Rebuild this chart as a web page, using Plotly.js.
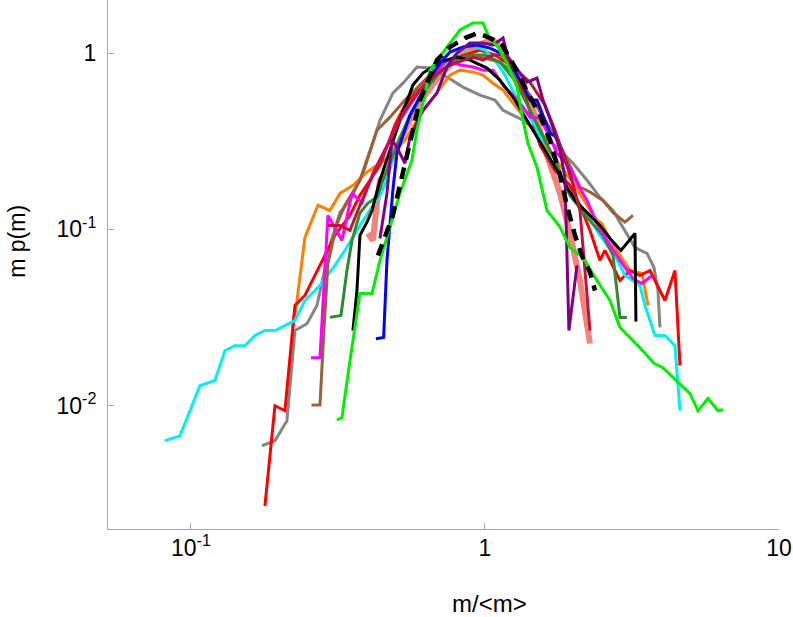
<!DOCTYPE html>
<html>
<head>
<meta charset="utf-8">
<script src="https://cdn.plot.ly/plotly-3.0.1.min.js"></script>
<style>
html,body{margin:0;padding:0;background:#fff;}
#chart{width:793px;height:617px;}
</style>
</head>
<body>
<div id="chart"></div>
<script>
// ---- data (x = m/<m>, y = m p(m)) ----
var salmonX = [0.4000,0.4156,0.4292,0.4394,0.4642,0.4942,0.5557,0.6250,0.7029,0.7906,0.8892,0.9845,1.065,1.125,1.235,1.368,1.503,1.626,1.800,1.946,2.104,2.276];
var salmonY = [0.0950,0.0866,0.141,0.190,0.208,0.281,0.416,0.577,0.750,0.912,1.040,1.140,1.186,1.082,0.855,0.616,0.416,0.263,0.160,0.0950,0.0513,0.0225];

var grayX = [0.1744,0.1931,0.2121,0.2258,0.2481,0.2683,0.2970,0.3212,0.3474,0.3846,0.4156,0.4394,0.4862,0.5262,0.5871,0.6500,0.7427,0.8418,0.9616,1.081,1.152,1.245,1.347,1.539,1.758,1.993,2.224,2.461,2.725,2.947,3.237,3.557,3.757,3.876,3.937];
var grayY = [0.00593,0.00633,0.00822,0.0267,0.0292,0.0370,0.0811,0.125,0.146,0.208,0.308,0.416,0.593,0.675,0.833,0.822,0.731,0.641,0.577,0.541,0.474,0.444,0.416,0.351,0.292,0.237,0.190,0.152,0.128,0.1026,0.0789,0.0731,0.0608,0.0450,0.0278];

var orangeX = [0.2221,0.2295,0.2442,0.2704,0.2970,0.3212,0.3556,0.3969,0.4642,0.5344,0.6010,0.6759,0.7603,0.8222,0.9104,0.9845,1.065,1.152,1.265,1.423,1.600,1.800,2.024,2.276,2.403,2.500,2.600,2.878,3.113,3.419,3.585];
var orangeY = [0.0278,0.0395,0.0901,0.137,0.128,0.160,0.178,0.211,0.253,0.320,0.444,0.577,0.750,0.800,0.780,0.750,0.675,0.616,0.506,0.390,0.300,0.231,0.178,0.128,0.1125,0.108,0.095,0.0712,0.0585,0.0563,0.0370];

var redX = [0.1785,0.1931,0.2088,0.2258,0.2442,0.2641,0.2856,0.3089,0.3474,0.3757,0.4063,0.4394,0.4942,0.5344,0.6010,0.6759,0.7603,0.8551,0.9616,1.081,1.216,1.368,1.539,1.730,1.946,2.104,2.276,2.461,2.559,2.878,3.113,3.366,3.640,4.094,4.428,4.605];
var redY = [0.00270,0.0100,0.00937,0.0370,0.0422,0.0548,0.0712,0.0925,0.120,0.156,0.190,0.231,0.390,0.506,0.658,0.800,0.912,0.974,1.040,0.974,0.855,0.577,0.300,0.216,0.178,0.137,0.0987,0.0667,0.0760,0.0513,0.0585,0.0548,0.0585,0.0395,0.0585,0.0169];

var cyanX = [0.0816,0.0918,0.1073,0.1207,0.1305,0.1411,0.1526,0.1651,0.1785,0.1931,0.2088,0.2258,0.2442,0.2747,0.3089,0.3341,0.3757,0.4063,0.4394,0.4569,0.4942,0.5557,0.6250,0.7029,0.7906,0.8892,1.000,1.081,1.170,1.265,1.368,1.479,1.600,1.800,2.024,2.189,2.461,2.768,2.993,3.366,3.501,3.786,4.094,4.428,4.605];
var cyanY = [0.00633,0.00675,0.0130,0.0139,0.0205,0.0219,0.0219,0.0250,0.0267,0.0267,0.0285,0.0304,0.0395,0.0481,0.0625,0.0760,0.1054,0.128,0.156,0.178,0.281,0.444,0.616,0.800,0.974,1.110,1.040,0.912,0.750,0.577,0.474,0.390,0.281,0.203,0.146,0.128,0.0925,0.0712,0.0548,0.0481,0.0370,0.0250,0.0250,0.0219,0.00937];

var brownX = [0.2571,0.2747,0.2833,0.2924,0.3137,0.3341,0.3757,0.4292,0.4752,0.5344,0.6010,0.7029,0.8222,0.9616,1.125,1.265,1.423,1.600,1.800,1.977,2.104,2.276,2.519,2.725,2.993,3.187];
var brownY = [0.0101,0.0101,0.0267,0.0641,0.108,0.137,0.190,0.365,0.433,0.541,0.658,0.800,0.912,0.949,0.889,0.750,0.577,0.416,0.300,0.216,0.174,0.163,0.146,0.125,0.110,0.120];

var dgreenX = [0.2970,0.3238,0.3393,0.3530,0.3757,0.4000,0.4292,0.4499,0.4942,0.5557,0.6250,0.7029,0.7906,0.8892,1.000,1.125,1.245,1.368,1.539,1.730,1.946,2.224,2.519,2.725,2.878,3.039];
var dgreenY = [0.0317,0.0325,0.0585,0.0866,0.124,0.141,0.152,0.190,0.281,0.444,0.616,0.780,0.912,0.974,0.974,0.889,0.721,0.541,0.365,0.247,0.156,0.117,0.0925,0.0712,0.0317,0.0317];

var magentaX = [0.2561,0.2747,0.2924,0.3263,0.3530,0.3816,0.4156,0.4569,0.5139,0.6010,0.6759,0.7427,0.8222,0.9104,0.9845,1.065,1.152,1.245,1.347,1.423,1.539,1.664,1.758,1.946,2.056,2.223,2.403,2.600,2.878,3.187,3.419,3.698];
var magentaY = [0.0187,0.0187,0.120,0.0866,0.160,0.142,0.208,0.281,0.416,0.616,0.780,0.912,0.855,0.833,0.800,0.800,0.658,0.577,0.493,0.433,0.427,0.333,0.270,0.225,0.183,0.146,0.108,0.0866,0.0667,0.0526,0.0493,0.0548];

var blackX = [0.3556,0.3670,0.3757,0.3969,0.4128,0.4394,0.4752,0.5139,0.5689,0.6152,0.7029,0.8031,0.8892,1.016,1.125,1.265,1.423,1.600,1.800,2.024,2.276,2.461,2.662,2.901,3.237,3.262];
var blackY = [0.0267,0.0450,0.0925,0.110,0.128,0.190,0.281,0.416,0.658,0.770,0.889,0.949,0.912,0.822,0.702,0.541,0.390,0.281,0.203,0.146,0.120,0.1054,0.0889,0.0760,0.0950,0.0300];

var blueX = [0.4257,0.4523,0.4642,0.4752,0.4862,0.5018,0.5557,0.6351,0.7029,0.7603,0.8418,0.9393,1.040,1.125,1.245,1.315,1.423,1.503,1.664,1.758,1.843,1.977];
var blueY = [0.0240,0.0244,0.0667,0.108,0.167,0.270,0.444,0.675,0.877,1.013,1.082,1.110,1.067,1.000,0.822,0.702,0.541,0.541,0.351,0.333,0.270,0.190];

var crimsonX = [0.2924,0.3212,0.3474,0.3757,0.4225,0.4752,0.5344,0.6010,0.6759,0.7603,0.8418,0.9104,0.9845,1.065,1.152,1.245,1.423,1.600,1.730,1.871,1.977,2.104,2.276];
var crimsonY = [0.1054,0.1054,0.0987,0.137,0.216,0.320,0.474,0.616,0.750,0.855,0.912,0.949,0.912,0.974,0.974,0.833,0.684,0.506,0.365,0.247,0.190,0.128,0.0267];

var purpleX = [0.4394,0.4523,0.4642,0.4827,0.5018,0.5344,0.5557,0.6152,0.6866,0.7427,0.8031,0.8892,0.9845,1.065,1.152,1.197,1.390,1.503,1.575,1.703,1.800,1.871,1.930,2.056];
var purpleY = [0.0889,0.124,0.160,0.320,0.292,0.237,0.333,0.474,0.593,0.833,1.000,1.140,1.140,1.110,1.217,0.949,0.684,0.721,0.541,0.380,0.281,0.197,0.0267,0.0625];

var limeX = [0.3137,0.3263,0.3474,0.3757,0.4128,0.4394,0.4752,0.5139,0.5644,0.5871,0.6152,0.6500,0.7427,0.8222,0.9104,0.9845,1.040,1.098,1.188,1.285,1.347,1.400,1.503,1.626,1.800,1.946,2.155,2.403,2.662,2.878,3.366,3.757,4.031,4.605,4.980,5.300,5.735,6.206,6.457];
var limeY = [0.00832,0.00855,0.0180,0.0433,0.0433,0.0667,0.103,0.160,0.247,0.365,0.520,0.800,1.082,1.351,1.480,1.480,1.186,1.110,0.877,0.641,0.416,0.308,0.225,0.128,0.103,0.0789,0.0694,0.0513,0.0395,0.0278,0.0213,0.0174,0.0164,0.0133,0.0117,0.00937,0.0110,0.00937,0.00950];

var dashX = [0.4326,0.4569,0.4862,0.5139,0.5344,0.5689,0.6010,0.6399,0.6866,0.7603,0.8551,0.9467,1.040,1.143,1.265,1.400,1.539,1.664,1.800,1.900,2.024,2.133,2.276,2.367];
var dashY = [0.0712,0.090,0.120,0.178,0.231,0.365,0.541,0.702,0.912,1.082,1.217,1.299,1.217,1.110,0.833,0.593,0.444,0.320,0.203,0.137,0.0925,0.0712,0.0571,0.0450];

var xTickVals = [0.1, 1, 10];
var xTickText = ['10<sup>-1</sup>', '1', '10'];
var yTickVals = [0.01, 0.1, 1];
var yTickText = ['10<sup>-2</sup>', '10<sup>-1</sup>', '1'];

function line(x, y, color, width, dash) {
  return {x: x, y: y, type: 'scatter', mode: 'lines', hoverinfo: 'skip',
          line: {color: color, width: width, dash: dash || 'solid'}};
}

var traces = [
  line(salmonX, salmonY, '#f4837a', 6),
  line(grayX, grayY, '#858585', 3),
  line(orangeX, orangeY, '#ff8000', 3),
  line(redX, redY, '#ff0000', 3),
  line(cyanX, cyanY, '#00f0f0', 3),
  line(brownX, brownY, '#9c5f36', 3),
  line(dgreenX, dgreenY, '#2e8b2e', 3),
  line(magentaX, magentaY, '#ff00ff', 3),
  line(blackX, blackY, '#000000', 3),
  line(blueX, blueY, '#0000ff', 3),
  line(crimsonX, crimsonY, '#c0143c', 3),
  line(purpleX, purpleY, '#800080', 3),
  line(limeX, limeY, '#00ee00', 3),
  line(dashX, dashY, '#000000', 4.5, '12px,8px')
];

var FONT = 'Liberation Sans, Arial, sans-serif';
var axisCommon = {
  type: 'log', showgrid: false, zeroline: false, showline: true,
  linecolor: '#a8a8a8', linewidth: 1, ticks: 'inside', ticklen: 6,
  tickcolor: '#a8a8a8', tickwidth: 1, tickmode: 'array',
  tickfont: {family: FONT, size: 23, color: '#000'}
};

var layout = {
  width: 793, height: 617,
  margin: {l: 108, r: 14, t: 0, b: 88, pad: 0},
  paper_bgcolor: '#fff', plot_bgcolor: '#fff',
  showlegend: false,
  xaxis: Object.assign({}, axisCommon, {range: [-1.282, 1], tickvals: xTickVals, ticktext: xTickText, ticklabelstandoff: -2}),
  yaxis: Object.assign({}, axisCommon, {range: [-2.699, 0.301], tickvals: yTickVals, ticktext: yTickText, ticklabelstandoff: 6}),
  annotations: [
    {text: 'm/<m>', xref: 'paper', yref: 'paper', x: 0.568, y: -0.140, showarrow: false,
     xanchor: 'center', yanchor: 'middle', font: {family: FONT, size: 24, color: '#000'}},
    {text: 'm p(m)', xref: 'paper', yref: 'paper', x: -0.1356, y: 0.543, showarrow: false, textangle: -90,
     xanchor: 'center', yanchor: 'middle', font: {family: FONT, size: 23, color: '#000'}}
  ]
};

Plotly.newPlot('chart', traces, layout, {staticPlot: true, displayModeBar: false});
</script>
</body>
</html>
